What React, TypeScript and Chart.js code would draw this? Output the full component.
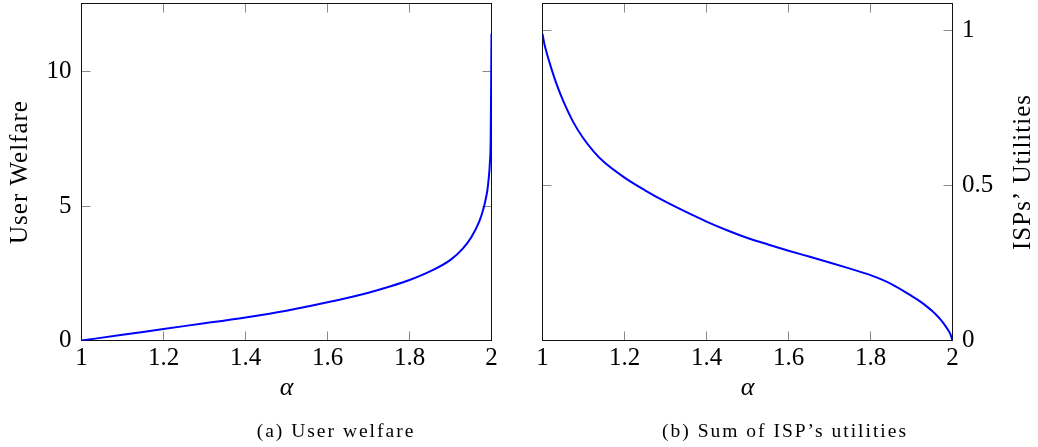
import React, { useEffect, useRef } from "react";
import { Chart, registerables } from "chart.js";

Chart.register(...registerables);

// ---- tick values / labels ----
const alphaTicks = [1, 1.2, 1.4, 1.6, 1.8, 2];
const alphaTickLabels = ["1", "1.2", "1.4", "1.6", "1.8", "2"];
const welfareTicks = [0, 5, 10];
const welfareTickLabels = ["0", "5", "10"];
const utilityTicks = [0, 0.5, 1];
const utilityTickLabels = ["0", "0.5", "1"];

// ---- (a) User welfare ----
const welfareAlpha = [1, 1.1, 1.2, 1.3, 1.4, 1.5, 1.6, 1.7, 1.75, 1.8, 1.85, 1.9, 1.93, 1.95, 1.97, 1.98, 1.985, 1.99, 1.993, 1.996, 1.998, 2.0];
const welfareValues = [0, 0.21, 0.43, 0.64, 0.86, 1.11, 1.42, 1.78, 2.0, 2.25, 2.57, 3.0, 3.42, 3.82, 4.42, 4.88, 5.2, 5.6, 6.0, 6.6, 7.5, 11.42];

// ---- (b) Sum of ISP's utilities ----
const utilityAlpha = [1, 1.005, 1.01, 1.02, 1.035, 1.05, 1.075, 1.1, 1.125, 1.15, 1.2, 1.25, 1.3, 1.35, 1.4, 1.45, 1.5, 1.55, 1.6, 1.65, 1.7, 1.75, 1.8, 1.85, 1.9, 1.92, 1.94, 1.95, 1.96, 1.97, 1.98, 1.99, 1.995, 2.0];
const utilityValues = [0.99, 0.955, 0.93, 0.885, 0.825, 0.775, 0.705, 0.652, 0.61, 0.576, 0.526, 0.485, 0.448, 0.415, 0.384, 0.356, 0.331, 0.31, 0.29, 0.271, 0.252, 0.232, 0.211, 0.183, 0.144, 0.127, 0.107, 0.096, 0.083, 0.069, 0.052, 0.032, 0.02, 0];

const SERIF = '"Liberation Serif", "Times New Roman", serif';
const H = 447;
const PLOT_TOP = 3.5;
const PLOT_BOTTOM = 340.5;

type Panel = {
  left: number;
  width: number;
  padLeft: number;
  padRight: number;
  yWidth: number;
  yPos: "left" | "right";
  yMax: number;
  yTicks: number[];
  yLabels: string[];
  alpha: number[];
  values: number[];
  yTitle: string;
  yTitleX: number;
  caption: string;
  captionX: number;
};

const panels: Panel[] = [
  {
    left: 0,
    width: 520,
    padLeft: 0,
    padRight: 520 - 491.5,
    yWidth: 81.5,
    yPos: "left",
    yMax: 12.54,
    yTicks: welfareTicks,
    yLabels: welfareTickLabels,
    alpha: welfareAlpha,
    values: welfareValues,
    yTitle: "User Welfare",
    yTitleX: 20,
    caption: "(a) User welfare",
    captionX: 336,
  },
  {
    left: 520,
    width: 518,
    padLeft: 22.5,
    padRight: 0,
    yWidth: 518 - 432.5,
    yPos: "right",
    yMax: 1.088,
    yTicks: utilityTicks,
    yLabels: utilityTickLabels,
    alpha: utilityAlpha,
    values: utilityValues,
    yTitle: "ISPs\u2019 Utilities",
    yTitleX: 503,
    caption: "(b) Sum of ISP\u2019s utilities",
    captionX: 265,
  },
];

function makePlugin(p: Panel) {
  return {
    id: "frameAndText",
    beforeDatasetsDraw(chart: any) {
      const { ctx, chartArea: a, scales } = chart;
      const snap = (v: number) => Math.round(v - 0.5) + 0.5;
      const L = snap(a.left), R = snap(a.right), T = snap(a.top), B = snap(a.bottom);
      const TL = 9;
      ctx.save();
      ctx.lineWidth = 1;
      ctx.strokeStyle = "#8a8a8a";
      ctx.beginPath();
      scales.x.ticks.forEach((t: any) => {
        const x = snap(scales.x.getPixelForValue(t.value));
        ctx.moveTo(x, B); ctx.lineTo(x, B - TL);
        ctx.moveTo(x, T); ctx.lineTo(x, T + TL);
      });
      scales.y.ticks.forEach((t: any) => {
        const y = snap(scales.y.getPixelForValue(t.value));
        ctx.moveTo(L, y); ctx.lineTo(L + TL, y);
        ctx.moveTo(R, y); ctx.lineTo(R - TL, y);
      });
      ctx.stroke();
      ctx.strokeStyle = "#111";
      ctx.strokeRect(L, T, R - L, B - T);
      ctx.restore();
    },
    afterDraw(chart: any) {
      const { ctx, chartArea: a } = chart;
      ctx.save();
      ctx.fillStyle = "#000";
      ctx.font = `25px ${SERIF}`;
      (ctx as any).letterSpacing = "1px";
      ctx.textAlign = "center";
      ctx.textBaseline = "middle";
      ctx.translate(p.yTitleX, (a.top + a.bottom) / 2);
      ctx.rotate(-Math.PI / 2);
      ctx.fillText(p.yTitle, 0, 0);
      ctx.restore();

      ctx.save();
      ctx.fillStyle = "#000";
      ctx.font = `italic 26px ${SERIF}`;
      ctx.textAlign = "center";
      ctx.textBaseline = "middle";
      ctx.fillText("\u03b1", (a.left + a.right) / 2, 388);
      ctx.restore();

      ctx.save();
      ctx.fillStyle = "#000";
      ctx.font = `19.5px ${SERIF}`;
      (ctx as any).letterSpacing = "2px";
      ctx.textAlign = "center";
      ctx.textBaseline = "alphabetic";
      ctx.fillText(p.caption, p.captionX, 437);
      ctx.restore();
    },
  };
}

function PanelChart({ p }: { p: Panel }) {
  const ref = useRef<HTMLCanvasElement | null>(null);
  useEffect(() => {
    const canvas = ref.current;
    if (!canvas) return;
    const fitZero = (s: any) => {
      s.paddingLeft = 0;
      s.paddingRight = 0;
      s.paddingTop = 0;
      s.paddingBottom = 0;
    };
    const chart = new Chart(canvas, {
      type: "line",
      data: {
        datasets: [
          {
            data: p.alpha.map((a, i) => ({ x: a, y: p.values[i] })),
            borderColor: "#0000ff",
            backgroundColor: "#0000ff",
            borderWidth: 2,
            pointRadius: 0,
            fill: false,
            cubicInterpolationMode: "monotone",
          },
        ],
      },
      options: {
        animation: false,
        responsive: false,
        maintainAspectRatio: false,
        devicePixelRatio: 1,
        events: [],
        layout: { padding: { left: p.padLeft, right: p.padRight, top: PLOT_TOP, bottom: 0 } },
        plugins: { legend: { display: false }, tooltip: { enabled: false }, title: { display: false } },
        scales: {
          x: {
            type: "linear",
            position: "bottom",
            min: 1,
            max: 2,
            grid: { display: false, drawTicks: false },
            border: { display: false },
            ticks: {
              autoSkip: false,
              maxRotation: 0,
              minRotation: 0,
              padding: 3,
              color: "#000",
              font: { family: SERIF, size: 25 },
              callback: (_v: any, i: number) => alphaTickLabels[i],
            },
            afterBuildTicks: (s: any) => {
              s.ticks = alphaTicks.map((v) => ({ value: v }));
            },
            afterFit: (s: any) => {
              s.height = H - PLOT_BOTTOM;
              fitZero(s);
            },
          },
          y: {
            type: "linear",
            position: p.yPos,
            min: 0,
            max: p.yMax,
            grid: { display: false, drawTicks: false },
            border: { display: false },
            ticks: {
              autoSkip: false,
              padding: p.yPos === "left" ? 10 : 9.5,
              color: "#000",
              font: { family: SERIF, size: 25 },
              callback: (_v: any, i: number) => p.yLabels[i],
            },
            afterBuildTicks: (s: any) => {
              s.ticks = p.yTicks.map((v) => ({ value: v }));
            },
            afterFit: (s: any) => {
              s.width = p.yWidth;
              fitZero(s);
            },
          },
        },
      } as any,
      plugins: [makePlugin(p)],
    });
    return () => chart.destroy();
  }, [p]);
  return (
    <canvas
      ref={ref}
      width={p.width}
      height={H}
      style={{ position: "absolute", left: p.left, top: 0, width: p.width, height: H, display: "block" }}
    />
  );
}

export default function App() {
  return (
    <div style={{ position: "fixed", left: 0, top: 0, width: 1038, height: H, background: "#fff", overflow: "hidden" }}>
      {panels.map((p, i) => (
        <PanelChart key={i} p={p} />
      ))}
    </div>
  );
}
